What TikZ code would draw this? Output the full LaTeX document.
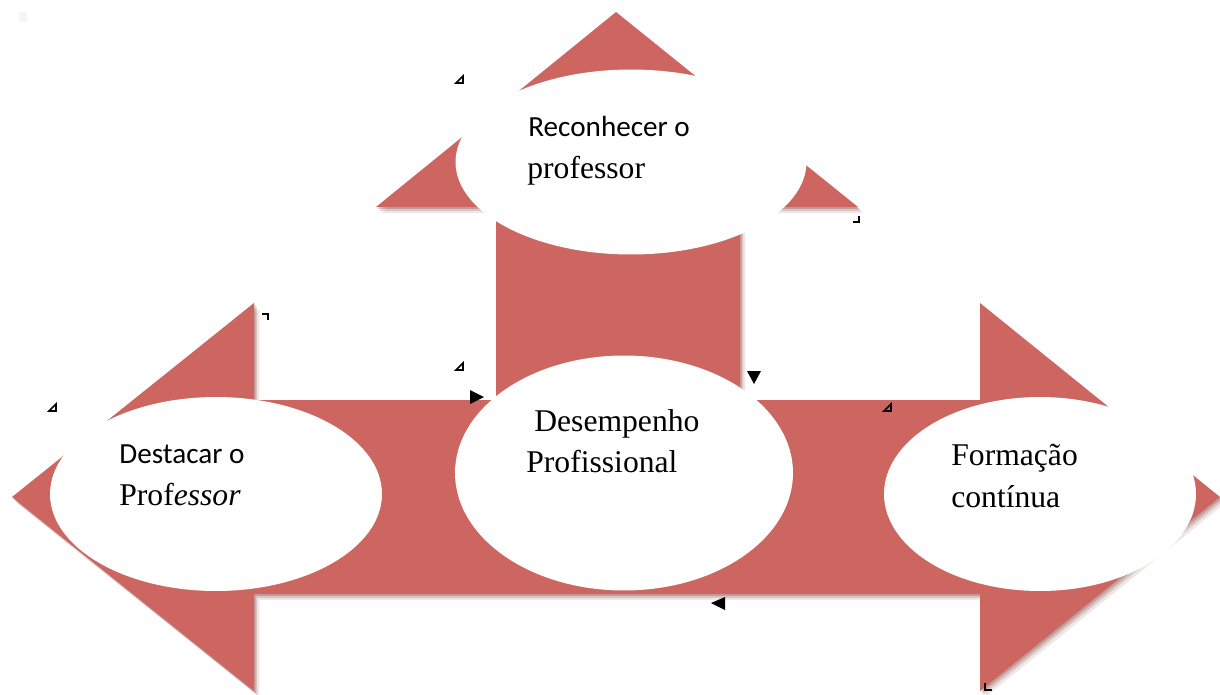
\documentclass[tikz,border=0pt]{standalone}
\usepackage{fontspec}
\setmainfont{Liberation Serif}
\newfontfamily\calibri{Carlito}
\usetikzlibrary{shapes.geometric}
\definecolor{arrowred}{RGB}{205,102,96}
\definecolor{shadowred}{RGB}{150,90,90}

\begin{document}
\begin{tikzpicture}[
        x=0.02cm, y=-0.02cm,
        % big three-way arrow
        bigarrow/.style={
            fill=arrowred,
            preaction={fill=shadowred, opacity=0.15,
                transform canvas={xshift=3pt, yshift=-3.5pt}},
            preaction={fill=shadowred, opacity=0.25,
                transform canvas={xshift=1.8pt, yshift=-2.2pt}},
            preaction={fill=shadowred, opacity=0.35,
                transform canvas={xshift=0.9pt, yshift=-1.1pt}}
        },
        bubble/.style={
            ellipse,
            fill=white,
            inner sep=0pt
        },
        sanslbl/.style={anchor=base west, inner sep=0pt, font=\calibri\fontsize{16.6}{19}\selectfont},
        seriflbl/.style={anchor=base west, inner sep=0pt, font=\fontsize{18}{21}\selectfont},
        anchormark/.style={draw=black, line width=0.9pt},
        tipmark/.style={fill=black}
        ]
        \useasboundingbox (0,0) rectangle (1220,694);

        \fill[gray!8] (19,12) rectangle (27,22);

        \path[bigarrow] (616,12) -- (858,207) -- (740,207) -- (740,400)
            -- (980,400) -- (980,303) -- (1220,497) -- (980,691) -- (980,594)
            -- (254,594) -- (254,691) -- (12,497) -- (254,303) -- (254,400)
            -- (496,400) -- (496,207) -- (376,207) -- cycle;

        \node [bubble, minimum width=7.02cm, minimum height=3.7cm] (reconhecer) at (631,162) {};
        \node [bubble, minimum width=6.76cm, minimum height=4.7cm] (desempenho) at (624,473) {};
        \node [bubble, minimum width=6.64cm, minimum height=3.88cm] (destacar) at (216,494) {};
        \node [bubble, minimum width=6.24cm, minimum height=3.88cm] (formacao) at (1040,494) {};

        \node [sanslbl] (reconhecer-1) at (528,136) {Reconhecer o};
        \node [seriflbl] (reconhecer-2) at (527,178) {professor};

        \node [seriflbl] (desempenho-1) at (534,431) {Desempenho};
        \node [seriflbl] (desempenho-2) at (526,472) {Profissional};

        \node [sanslbl] (destacar-1) at (119,463) {Destacar o};
        \node [seriflbl] (destacar-2) at (119,505) {Prof\textit{essor}};

        \node [seriflbl] (formacao-1) at (951,465) {Formação};
        \node [seriflbl] (formacao-2) at (951,507) {contínua};

        % layout anchors
        \draw[anchormark] (456,83) -- (463,83) -- (463,76) -- cycle;
        \draw[anchormark] (456,370) -- (463,370) -- (463,363) -- cycle;
        \draw[anchormark] (49,411) -- (56,411) -- (56,404) -- cycle;
        \draw[anchormark] (884,411) -- (891,411) -- (891,404) -- cycle;
        \draw[anchormark, line width=1.3pt] (853,222) -- (859,222) -- (859,216);
        \draw[anchormark, line width=1.3pt] (262,314) -- (268,314) -- (268,320);
        \draw[anchormark, line width=1.3pt] (985,683) -- (985,690) -- (992,690);
        \fill[tipmark] (470,390) -- (484,397) -- (470,404) -- cycle;
        \fill[tipmark] (747,371) -- (761,371) -- (754,384) -- cycle;
        \fill[tipmark] (725,597) -- (725,610) -- (711,603) -- cycle;
\end{tikzpicture}
\end{document}
